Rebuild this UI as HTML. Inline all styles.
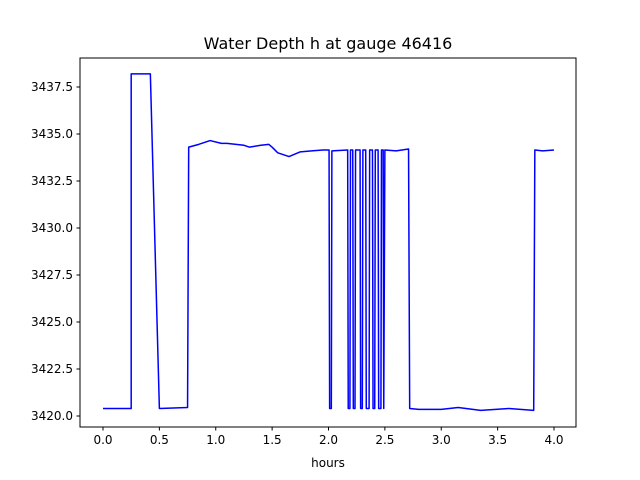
<!DOCTYPE html>
<html><head><meta charset="utf-8"><style>
body{margin:0;background:#fff;}
svg{display:block;font-family:"DejaVu Sans","Liberation Sans",sans-serif;}
</style></head><body>
<svg id="chart" width="640" height="480">
<rect width="640" height="480" fill="#fff"/>
<text x="328" y="49" text-anchor="middle" font-size="16">Water Depth h at gauge 46416</text>
<g id="axes"></g>
<text x="328" y="467" text-anchor="middle" font-size="12">hours</text>
</svg>
<script>
const xs=[0,0.25,0.25,0.42,0.5,0.75,0.76,0.85,0.95,1.05,1.1,1.25,1.3,1.4,1.47,1.5,1.55,1.65,1.75,1.85,1.95,
2.005,2.01,2.025,2.03,2.17,2.175,2.19,2.195,2.215,2.22,2.235,2.24,2.28,2.285,2.3,2.305,2.33,2.335,2.36,2.365,2.39,2.395,2.41,2.415,2.44,2.445,2.465,2.47,2.485,2.49,2.5,
2.6,2.71,2.72,2.8,3.0,3.15,3.35,3.6,3.82,3.83,3.9,4.0];
const ys=[3420.4,3420.4,3438.2,3438.2,3420.4,3420.45,3434.3,3434.45,3434.65,3434.5,3434.5,3434.4,3434.3,3434.4,3434.45,3434.3,3434.0,3433.8,3434.05,3434.1,3434.15,
3434.15,3420.4,3420.4,3434.1,3434.15,3420.4,3420.4,3434.15,3434.15,3420.4,3420.4,3434.15,3434.15,3420.4,3420.4,3434.15,3434.15,3420.4,3420.4,3434.15,3434.15,3420.4,3420.4,3434.15,3434.15,3420.4,3420.4,3434.15,3434.15,3420.4,3434.15,
3434.1,3434.2,3420.4,3420.35,3420.35,3420.45,3420.3,3420.4,3420.3,3434.15,3434.1,3434.15];
const xTicks=[0,0.5,1,1.5,2,2.5,3,3.5,4];
const yTicks=[3420,3422.5,3425,3427.5,3430,3432.5,3435,3437.5];
const L=80,R=576,T=58,B=427;
const sx=v=>103+v*112.75;
const sy=v=>416-(v-3420)*18.8;
const ns="http://www.w3.org/2000/svg";
const g=document.getElementById('axes');
function mk(t,a){const e=document.createElementNS(ns,t);for(const k in a)e.setAttribute(k,a[k]);g.appendChild(e);return e;}
const line=mk('path',{d:xs.map((x,i)=>(i?'L':'M')+sx(x).toFixed(2)+' '+sy(ys[i]).toFixed(2)).join(''),fill:'none',stroke:'#0000ff','stroke-width':1.5,'stroke-linejoin':'round'});


const frame=mk('rect',{x:L,y:T,width:R-L,height:B-T,fill:'none',stroke:'#000','stroke-width':1});


xTicks.forEach(v=>{const x=sx(v);
 mk('line',{x1:x,x2:x,y1:B,y2:B+3.5,stroke:'#000'});
 const t=mk('text',{x:x,y:B+17,'text-anchor':'middle','font-size':12});t.textContent=v.toFixed(1);
 
 });
yTicks.forEach(v=>{const y=sy(v);
 mk('line',{x1:L-3.5,x2:L,y1:y,y2:y,stroke:'#000'});
 const t=mk('text',{x:L-7,y:y+4,'text-anchor':'end','font-size':12});t.textContent=v.toFixed(1);
 
 });
</script>
</body></html>
